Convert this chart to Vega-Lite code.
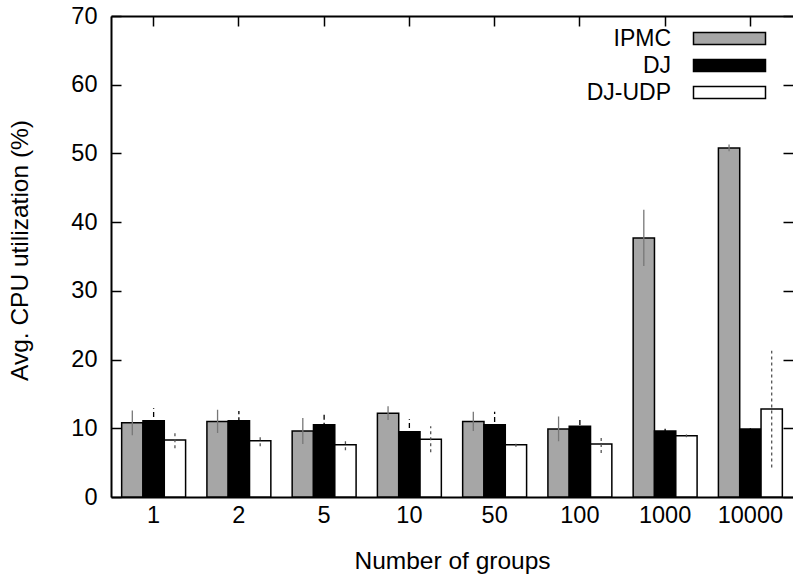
{
  "$schema": "https://vega.github.io/schema/vega-lite/v6.json",
  "autosize": {"type": "none"},
  "padding": {"left": 111, "top": 16, "right": 0, "bottom": 80},
  "width": 682,
  "height": 481,
  "background": "white",
  "config": {
    "font": "Liberation Sans",
    "view": {"stroke": null},
    "axis": {"grid": false, "labelColor": "black", "titleColor": "black", "labelFontSize": 23.5, "titleFontSize": 24.5, "titleFontWeight": "normal", "domainColor": "black", "tickColor": "black", "domainWidth": 2, "tickWidth": 1.5}
  },
  "data": {
    "values": [
      {"group": "1", "series": "IPMC", "value": 10.8, "low": 9.0, "high": 12.6},
      {"group": "1", "series": "DJ", "value": 11.1, "low": 9.3, "high": 12.9},
      {"group": "1", "series": "DJ-UDP", "value": 8.3, "low": 7.1, "high": 9.5},
      {"group": "2", "series": "IPMC", "value": 11.0, "low": 9.3, "high": 12.7},
      {"group": "2", "series": "DJ", "value": 11.1, "low": 9.7, "high": 12.5},
      {"group": "2", "series": "DJ-UDP", "value": 8.2, "low": 7.4, "high": 9.0},
      {"group": "5", "series": "IPMC", "value": 9.6, "low": 7.7, "high": 11.5},
      {"group": "5", "series": "DJ", "value": 10.5, "low": 8.9, "high": 12.1},
      {"group": "5", "series": "DJ-UDP", "value": 7.6, "low": 6.8, "high": 8.4},
      {"group": "10", "series": "IPMC", "value": 12.2, "low": 11.2, "high": 13.2},
      {"group": "10", "series": "DJ", "value": 9.5, "low": 7.7, "high": 11.3},
      {"group": "10", "series": "DJ-UDP", "value": 8.4, "low": 6.5, "high": 10.3},
      {"group": "50", "series": "IPMC", "value": 11.0, "low": 9.6, "high": 12.4},
      {"group": "50", "series": "DJ", "value": 10.5, "low": 8.6, "high": 12.4},
      {"group": "50", "series": "DJ-UDP", "value": 7.6, "low": 7.3, "high": 7.9},
      {"group": "100", "series": "IPMC", "value": 9.9, "low": 8.1, "high": 11.7},
      {"group": "100", "series": "DJ", "value": 10.3, "low": 9.3, "high": 11.3},
      {"group": "100", "series": "DJ-UDP", "value": 7.7, "low": 6.4, "high": 9.0},
      {"group": "1000", "series": "IPMC", "value": 37.7, "low": 33.6, "high": 41.8},
      {"group": "1000", "series": "DJ", "value": 9.6, "low": 9.2, "high": 10.0},
      {"group": "1000", "series": "DJ-UDP", "value": 8.9, "low": 8.7, "high": 9.1},
      {"group": "10000", "series": "IPMC", "value": 50.8, "low": 50.3, "high": 51.3},
      {"group": "10000", "series": "DJ", "value": 9.9, "low": 9.8, "high": 10.0},
      {"group": "10000", "series": "DJ-UDP", "value": 12.8, "low": 4.3, "high": 21.3}
    ]
  },
  "layer": [
    {
      "mark": {"type": "bar", "stroke": "black", "strokeWidth": 1.5},
      "encoding": {
        "x": {"field": "group", "type": "nominal", "sort": ["1", "2", "5", "10", "50", "100", "1000", "10000"],
          "scale": {"paddingInner": 0.25, "paddingOuter": 0.125},
          "axis": {"orient": "bottom", "title": "Number of groups", "ticks": false, "labelAngle": 0, "labelPadding": 6, "titleY": 71, "titleBaseline": "alphabetic"}},
        "xOffset": {"field": "series", "type": "nominal", "sort": ["IPMC", "DJ", "DJ-UDP"], "scale": {"paddingInner": 0, "paddingOuter": 0}},
        "y": {"field": "value", "type": "quantitative", "scale": {"domain": [0, 70], "nice": false},
          "axis": {"orient": "left", "title": "Avg. CPU utilization (%)", "values": [0, 10, 20, 30, 40, 50, 60, 70], "tickSize": -10, "labelPadding": 24, "titleX": -91, "titleY": 234, "titleAngle": 270, "titleAlign": "center", "titleBaseline": "middle"}},
        "fill": {"field": "series", "type": "nominal", "sort": ["IPMC", "DJ", "DJ-UDP"],
          "scale": {"domain": ["IPMC", "DJ", "DJ-UDP"], "range": ["#a6a6a6", "#000000", "#ffffff"]},
          "legend": {"title": null, "orient": "none", "legendX": 607, "legendY": 11, "symbolType": "M-6,-1H6V1H-6Z", "symbolSize": 144, "symbolStrokeColor": "black", "symbolStrokeWidth": 1.5, "labelAlign": "right", "labelOffset": -70, "labelFontSize": 23, "labelColor": "black", "rowPadding": 3, "padding": 0}}
      }
    },
    {
      "mark": {"type": "rule", "strokeWidth": 1.3},
      "encoding": {
        "x": {"field": "group", "type": "nominal", "sort": ["1", "2", "5", "10", "50", "100", "1000", "10000"],
          "axis": {"orient": "top", "title": null, "labels": false, "tickSize": -10, "domainWidth": 2}},
        "xOffset": {"field": "series", "type": "nominal", "sort": ["IPMC", "DJ", "DJ-UDP"]},
        "y": {"field": "low", "type": "quantitative",
          "axis": {"orient": "right", "title": null, "labels": false, "domain": false, "tickSize": -10, "values": [0, 10, 20, 30, 40, 50, 60, 70]}},
        "y2": {"field": "high"},
        "stroke": {"condition": [{"test": "datum.series === 'IPMC'", "value": "#777777"}, {"test": "datum.series === 'DJ'", "value": "#000000"}], "value": "#555555"},
        "strokeDash": {"condition": [{"test": "datum.series === 'IPMC'", "value": [1, 0]}, {"test": "datum.series === 'DJ'", "value": [5, 3]}], "value": [3, 3]}
      }
    }
  ],
  "resolve": {"axis": {"x": "independent", "y": "independent"}}
}
